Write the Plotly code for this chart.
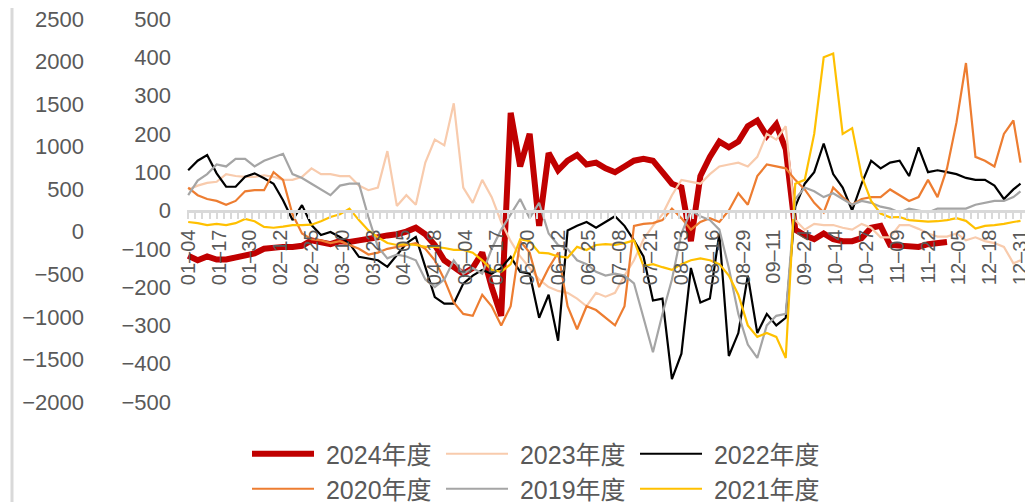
import pandas as pd
import plotly.graph_objects as go

# ---------------- categories (trading-calendar days shown on the x axis) ----------------
EXCLUDED_DAYS = ["05-01", "05-02", "05-03",
                 "10-01", "10-02", "10-03", "10-04", "10-05", "10-06", "10-07"]
DATES = [d.strftime("%m-%d") for d in pd.date_range("2023-01-04", "2023-12-31")
         if d.strftime("%m-%d") not in EXCLUDED_DAYS]

LABEL_STEP = 13
MINOR_STEP = 3
SAMPLE_POS = list(range(0, len(DATES), 4)) + [len(DATES) - 1]

# ---------------- series values (inner axis units) at the sampled days ----------------
S2024 = [-118, -130, -120, -128, -128, -122, -115, -112, -100, -96, -95, -95, -92, -78, -82,
         -88, -80, -82, -78, -75, -70, -65, -62, -55, -45, -62, -90, -130, -150, -165,
         -150, -110, -200, -275, 255, 115, 200, -40, 150, 105, 130, 145, 120, 125, 110,
         100, 115, 130, 135, 130, 100, 70, 60, -80, 90, 140, 180, 165, 180, 220,
         235, 195, 225, 160, -50, -65, -75, -60, -75, -80, -80, -72, -45, -40, -90,
         -92, -95, -95, -88, -85, -82, None, None, None, None, None, None, None,
         None]
S2023 = [55, 65, 72, 75, 95, 90, 88, 88, 92, 88, 80, 80, 88, 110, 95,
         95, 90, 90, 65, 53, 60, 155, 12, 40, 15, 125, 185, 170, 280, 60,
         20, 80, 35, -30, -80, -120, -150, -180, -200, -210, -215, -230, -250, -215, -225,
         -215, -170, -130, -75, -40, -10, 40, 80, 75, 70, 95, 115, 120, 125, 115,
         140, 200, 185, 220, -25, -50, -35, -38, -38, -45, -50, -35, -45, -70, -70,
         -38, -38, -48, -60, -68, -68, -60, -78, -70, -80, -85, -95, -138,
         -130]
S2022 = [105, 130, 145, 97, 62, 62, 88, 97, 84, 70, 27, -25, 14, -38, -64,
         -56, -69, -86, -121, -125, -130, -147, -117, -86, -69, -147, -226, -243, -243, -191,
         -170, -155, -165, -150, -121, -160, -165, -280, -220, -340, -52, -40, -30, -45, -30,
         -15, -40, -78, -120, -235, -230, -440, -374, -150, -240, -230, -60, -380, -320, -170,
         -320, -270, -300, -280, 10, 70, 100, 175, 95, 60, 0, 70, 130, 110, 125,
         130, 90, 165, 100, 105, 100, 95, 85, 80, 80, 65, 30, 55,
         70]
S2020 = [60, 40, 30, 25, 15, 25, 50, 53, 53, 100, 80, -10, -60, -75, -78,
         -85, -80, -90, -100, -115, -110, -100, -95, -90, -85, -100, -130, -180, -240, -270,
         -275, -220, -250, -300, -250, -80, -110, -200, -150, -110, -250, -310, -250, -260, -280,
         -300, -250, -40, -35, -33, -25, 5, -20, -50, -30, -20, -30, 0, 45, 15,
         90, 120, 115, 110, 80, 55, 20, -5, 60, 35, 15, 30, 35, 35, 55,
         40, 25, 35, 80, 35, 110, 230, 385, 140, 130, 115, 200, 235,
         125]
S2019 = [40, 78, 95, 120, 115, 135, 135, 115, 130, 140, 148, 95, 85, 70, 55,
         40, 65, 70, 70, -17, -95, -125, -115, -120, -130, -180, -200, -180, -130, -165,
         -150, -165, -100, -50, -10, 30, -20, 20, -60, -90, -100, -130, -140, -160, -170,
         -165, -170, -190, -280, -370, -270, -180, -60, 0, -15, -25, -50, -150, -270, -350,
         -385, -300, -275, -270, 30, 60, 50, 35, 45, 30, 15, 25, 20, 10, 5,
         -5, 5, 0, -5, 5, 5, 5, 5, 15, 20, 25, 25, 35,
         50]
S2021 = [-30, -33, -38, -35, -38, -33, -22, -28, -43, -45, -42, -38, -38, -37, -28,
         -17, -10, 5, -25, -52, -70, -85, -90, -88, -90, -95, -95, -98, -103, -103,
         -110, -130, -155, -160, -140, -75, -80, -110, -112, -120, -123, -95, -103, -90, -88,
         -90, -85, -78, -145, -140, -148, -155, -140, -130, -125, -130, -140, -170, -220, -300,
         -330, -320, -330, -385, 70, 80, 200, 400, 410, 200, 215, 90, 25, -8, -18,
         -17, -25, -28, -29, -28, -25, -20, -27, -47, -40, -38, -35, -30,
         -27]

SERIES = [
    ("2024年度", S2024, "#C00000", 6.0, "legend"),
    ("2023年度", S2023, "#F8CBAD", 2.2, "legend"),
    ("2022年度", S2022, "#000000", 2.2, "legend"),
    ("2020年度", S2020, "#ED7D31", 2.2, "legend2"),
    ("2019年度", S2019, "#A5A5A5", 2.2, "legend2"),
    ("2021年度", S2021, "#FFC000", 2.2, "legend2"),
]

INNER_TICKS = list(range(-500, 501, 100))
OUTER_TICKS = list(range(-2000, 2501, 500))

# ---------------- figure ----------------
PAGE_OFF = 8                      # default body margin of the html page
W, H = 1033 - PAGE_OFF, 502 - PAGE_OFF
ML, MR, MT, MB = 2, 3, 19 - PAGE_OFF, 100
PW = W - ML - MR
PH = H - MT - MB


def px_x(px):
    """screen pixel -> paper fraction"""
    return (px - PAGE_OFF - ML) / PW


def px_y(py):
    return (H - MB - (py - PAGE_OFF)) / PH


fig = go.Figure()
for name, vals, color, width, leg in SERIES:
    fig.add_trace(go.Scatter(
        x=SAMPLE_POS, y=vals, name=" " + name, mode="lines",
        line=dict(color=color, width=width, shape="linear"),
        connectgaps=False, legend=leg, hoverinfo="skip",
    ))
# empty trace so the outer (secondary) value axis is drawn
fig.add_trace(go.Scatter(x=[None], y=[None], yaxis="y2", showlegend=False,
                         mode="lines", hoverinfo="skip"))

label_pos = list(range(0, len(DATES), LABEL_STEP))
label_txt = [DATES[i].replace("-", "–") for i in label_pos]

GRAY = "#595959"
LEG_FONT = dict(size=25, color=GRAY, family="Liberation Sans, Noto Sans CJK SC, sans-serif")
fig.update_layout(
    width=W, height=H,
    margin=dict(l=ML, r=MR, t=MT, b=MB, autoexpand=False),
    paper_bgcolor="white", plot_bgcolor="white",
    font=dict(family="Liberation Sans, Arial, Noto Sans CJK SC, sans-serif", color=GRAY),
    xaxis=dict(
        domain=[px_x(187), 1.0], range=[-0.5, 355],
        anchor="free", position=0.5, automargin=False, ticklabeloverflow="allow",
        showline=True, linecolor="#d9d9d9", linewidth=3,
        tickmode="array", tickvals=label_pos, ticktext=label_txt,
        tickangle=-90, ticks="", ticklabelstandoff=9,
        tickfont=dict(size=20, color=GRAY),
        showgrid=False, zeroline=False,
        minor=dict(tickmode="linear", tick0=0, dtick=MINOR_STEP, ticks="outside",
                   ticklen=6, tickwidth=2, tickcolor="#d9d9d9", showgrid=False),
    ),
    yaxis=dict(
        range=[-500, 500], tickmode="array", tickvals=INNER_TICKS, automargin=False,
        ticklabeloverflow="allow",
        ticks="", ticklabelstandoff=15, tickfont=dict(size=22, color=GRAY),
        showgrid=False, zeroline=False, showline=False,
    ),
    yaxis2=dict(
        overlaying="y", anchor="free", position=px_x(86), side="left", automargin=False,
        ticklabeloverflow="allow",
        range=[-2000, 2500], tickmode="array", tickvals=OUTER_TICKS,
        ticks="", ticklabelstandoff=2, tickfont=dict(size=22, color=GRAY),
        showgrid=False, zeroline=False, showline=False,
    ),
    legend=dict(
        orientation="h", x=px_x(247), xanchor="left", y=px_y(431), yanchor="top",
        entrywidth=117, entrywidthmode="pixels", itemwidth=62,
        font=LEG_FONT, bgcolor="rgba(0,0,0,0)",
    ),
    legend2=dict(
        orientation="h", x=px_x(247), xanchor="left", y=px_y(466), yanchor="top",
        entrywidth=117, entrywidthmode="pixels", itemwidth=62,
        font=LEG_FONT, bgcolor="rgba(0,0,0,0)",
    ),
    shapes=[dict(type="line", xref="paper", yref="paper",
                 x0=px_x(12), x1=px_x(12), y0=px_y(502), y1=px_y(0),
                 line=dict(color="#d9d9d9", width=3))],
)

fig.write_html("out.html")
